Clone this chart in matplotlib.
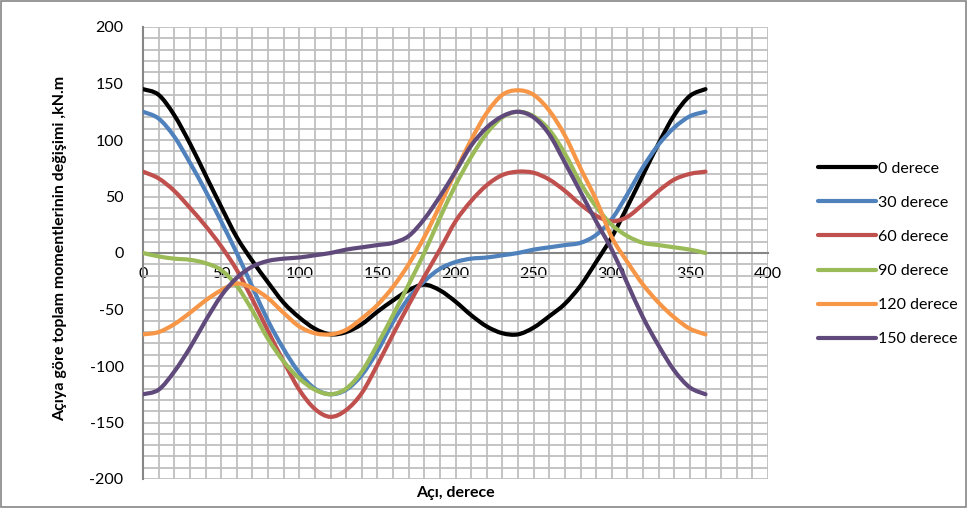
import numpy as np
import matplotlib.pyplot as plt
from matplotlib.patches import Rectangle, PathPatch
from matplotlib.path import Path
from matplotlib.lines import Line2D

plt.rcParams["font.family"] = ["Lato", "DejaVu Sans"]
plt.rcParams["axes.unicode_minus"] = False

# açı değerleri (derece)
aci = list(range(0, 361, 10))

m_0 = [145, 140, 122, 97, 69, 41, 14, -7, -26, -44, -57, -67, -72, -70, -63, -52, -42, -33,
       -28, -33, -43, -55, -65, -71, -72, -66, -56, -45, -29, -8, 14, 41, 69, 97, 122, 139, 145]
m_30 = [125, 119, 103, 80, 55, 28, 0, -30, -60, -85, -106, -120, -125, -121, -108, -87, -61, -40,
        -25, -14, -8, -5, -4, -2, 0, 3, 5, 7, 9, 16, 30, 52, 76, 96, 111, 121, 125]
m_60 = [72, 66, 55, 40, 24, 6, -15, -41, -69, -96, -121, -138, -145, -139, -124, -99, -72, -46,
        -21, 3, 28, 46, 60, 69, 72, 71, 65, 55, 43, 33, 28, 32, 43, 55, 65, 70, 72]
m_90 = [0, -3, -5, -6, -9, -15, -29, -51, -76, -96, -111, -121, -125, -120, -105, -81, -55, -28,
        0, 31, 60, 85, 106, 120, 125, 121, 109, 88, 62, 41, 25, 15, 9, 7, 5, 3, 0]
m_120 = [-72, -70, -63, -53, -42, -33, -27, -31, -40, -53, -65, -71, -72, -68, -58, -46, -30, -10,
         14, 42, 72, 100, 124, 140, 144, 140, 126, 104, 75, 47, 14, -8, -28, -44, -57, -67, -72]
m_150 = [-125, -121, -105, -84, -60, -38, -22, -12, -7, -5, -4, -2, 0, 3, 5, 7, 9, 15,
         30, 50, 72, 95, 111, 121, 125, 120, 105, 80, 54, 28, 3, -27, -57, -82, -104, -119, -125]

seriler = [m_0, m_30, m_60, m_90, m_120, m_150]
etiketler = ["0 derece", "30 derece", "60 derece", "90 derece", "120 derece", "150 derece"]
renkler = ["#000000", "#4F81BD", "#C0504D", "#9BBB59", "#F79646", "#604A7B"]


def yumusak_yol(x, y):
    # Excel'deki "düzgünleştirilmiş çizgi" gibi: noktalardan geçen Bezier eğrisi
    p = np.column_stack([x, y]).astype(float)
    p_ext = np.vstack([p[0], p, p[-1]])
    verts = [p[0]]
    codes = [Path.MOVETO]
    for i in range(1, len(p_ext) - 2):
        p0, p1, p2, p3 = p_ext[i - 1], p_ext[i], p_ext[i + 1], p_ext[i + 2]
        verts += [p1 + (p2 - p0) / 6, p2 - (p3 - p1) / 6, p2]
        codes += [Path.CURVE4] * 3
    return Path(verts, codes)


fig = plt.figure(figsize=(9.68, 5.08), dpi=100)
ax = fig.add_axes([143 / 968, 1 - 479 / 508, 625 / 968, 452 / 508])

tutamaklar = []
for y, lab, c in zip(seriler, etiketler, renkler):
    ax.add_patch(PathPatch(yumusak_yol(aci, y), fill=False, edgecolor=c, linewidth=3.0,
                           capstyle="round", joinstyle="round", zorder=3))
    tutamaklar.append(Line2D([], [], color=c, linewidth=3.0, solid_capstyle="round", label=lab))

ax.set_xlim(0, 400)
ax.set_ylim(-200, 200)
ax.set_xticks(range(0, 401, 50))
ax.set_xticks(range(0, 401, 10), minor=True)
ax.set_yticks(range(-200, 201, 50))
ax.set_yticks(range(-200, 201, 10), minor=True)
ax.grid(True, which="both", color="#BFBFBF", linewidth=1.3, zorder=0)
ax.set_axisbelow(True)

for s in ["top", "right"]:
    ax.spines[s].set_visible(False)
ax.spines["left"].set_color("#868686")
ax.spines["left"].set_linewidth(1.5)
ax.spines["bottom"].set_position(("data", 0))
ax.spines["bottom"].set_color("#868686")
ax.spines["bottom"].set_linewidth(1.5)
ax.tick_params(which="both", length=0)
ax.tick_params(axis="x", labelsize=11.5, pad=10)
ax.tick_params(axis="y", labelsize=11.5, pad=14)

fig.text(60 / 968, 1 - 248 / 508, "Açıya göre toplam momentlerinin değişimi ,kN.m",
         rotation=90, ha="center", va="center", fontsize=11.5, fontweight="bold")
fig.text(455 / 968, 1 - 493 / 508, "Açı, derece", ha="center", va="center",
         fontsize=11.5, fontweight="bold")

fig.legend(handles=tutamaklar, loc="center left", bbox_to_anchor=(818 / 968, 1 - 254 / 508),
           frameon=False, fontsize=11.5, handlelength=3.6, handletextpad=0.15,
           labelspacing=1.25, borderpad=0, borderaxespad=0)

fig.patches.append(Rectangle((0.001, 0.002), 0.997, 0.996, transform=fig.transFigure,
                             fill=False, edgecolor="#868686", linewidth=1.2))

fig.savefig("out.png", dpi=100)
